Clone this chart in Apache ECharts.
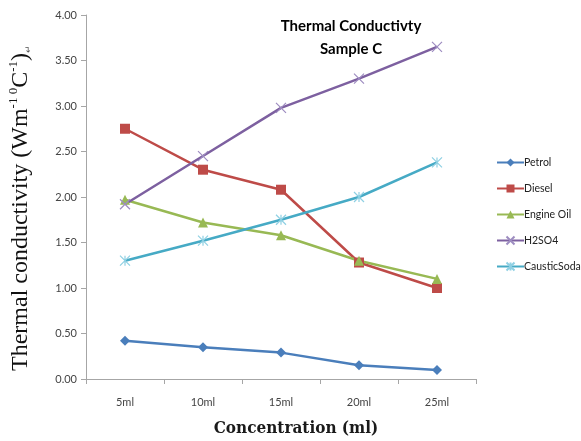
<!DOCTYPE html>
<html>
<head>
<meta charset="utf-8">
<script src="https://cdn.jsdelivr.net/npm/echarts@6/dist/echarts.min.js"></script>
<style>
  html, body { margin: 0; padding: 0; background: #fff; }
  #chart { width: 581px; height: 441px; }
</style>
</head>
<body>
<div id="chart"></div>
<script>
// Concentration categories along the x axis
const categories = ['5ml', '10ml', '15ml', '20ml', '25ml'];

// Thermal conductivity per liquid
const petrol      = [0.42, 0.35, 0.29, 0.15, 0.10];
const diesel      = [2.75, 2.30, 2.08, 1.28, 1.00];
const engineOil   = [1.97, 1.72, 1.58, 1.30, 1.10];
const h2so4       = [1.92, 2.45, 2.98, 3.30, 3.65];
const causticSoda = [1.30, 1.52, 1.75, 2.00, 2.38];

const seriesNames = ['Petrol', 'Diesel', 'Engine Oil', 'H2SO4', 'CausticSoda'];

const crossPath = 'path://M0,0L10,10M10,0L0,10';
const starPath  = 'path://M0,0L10,10M10,0L0,10M5,0L5,10';

function lineSeries(name, data, lineColor, markColor, symbol, size, hollow) {
  return {
    name: name,
    type: 'line',
    data: data,
    symbol: symbol,
    symbolSize: size,
    symbolKeepAspect: true,
    showAllSymbol: true,
    lineStyle: { color: lineColor, width: 2.5 },
    itemStyle: hollow
      ? { color: 'rgba(0,0,0,0)', borderColor: markColor, borderWidth: 1.2 }
      : { color: markColor, borderColor: markColor, borderWidth: 0 },
    emphasis: { disabled: true },
    animation: false
  };
}

const chart = echarts.init(document.getElementById('chart'), null, { renderer: 'canvas' });

chart.setOption({
  backgroundColor: '#ffffff',
  title: {
    text: 'Thermal Conductivty\nSample C',
    left: 346,
    top: 10,
    textAlign: 'center',
    textStyle: {
      fontFamily: 'Lato',
      fontWeight: 'bold',
      fontSize: 15,
      lineHeight: 23,
      color: '#000'
    }
  },
  legend: {
    orient: 'vertical',
    left: 491,
    top: 152,
    itemGap: 15,
    itemWidth: 27,
    itemHeight: 10,
    data: seriesNames,
    textStyle: { fontFamily: 'Lato', fontSize: 10.5, color: '#222', padding: [0, 0, 0, -5] }
  },
  grid: { left: 86, right: 105, top: 15, bottom: 62, containLabel: false, outerBoundsMode: 'none' },
  xAxis: {
    type: 'category',
    data: categories,
    boundaryGap: true,
    name: 'Concentration (ml)',
    nameLocation: 'middle',
    nameGap: 41,
    nameTextStyle: {
      fontFamily: 'DejaVu Serif Condensed, DejaVu Serif',
      fontSize: 17,
      fontWeight: 'bold',
      color: '#1a1a1a',
      padding: [0, 0, 0, 30]
    },
    axisLine: { lineStyle: { color: '#a6a6a6', width: 1 } },
    axisTick: { show: true, length: 5, lineStyle: { color: '#a6a6a6' } },
    axisLabel: { fontFamily: 'Lato', fontSize: 11, color: '#444', margin: 18 },
    splitLine: { show: false }
  },
  yAxis: {
    type: 'value',
    min: 0,
    max: 4,
    interval: 0.5,
    name: '{a|Thermal conductivity (Wm}{s|-1 0}{a|C}{s|-1}{a|)}{r|↵}',
    nameLocation: 'middle',
    nameRotate: 90,
    nameGap: 53,
    nameTextStyle: {
      padding: [0, 22, 0, 0],
      rich: {
        a: { fontFamily: 'Liberation Serif', fontSize: 24, color: '#111', verticalAlign: 'bottom', lineHeight: 26 },
        s: { fontFamily: 'Liberation Serif', fontSize: 13, color: '#111', verticalAlign: 'top', lineHeight: 26, padding: [0, 0, 11, 0] },
        r: { fontFamily: 'Liberation Serif', fontSize: 9, color: '#555', verticalAlign: 'bottom', lineHeight: 26 }
      }
    },
    axisLine: { show: true, lineStyle: { color: '#a6a6a6', width: 1 } },
    axisTick: { show: true, length: 5, lineStyle: { color: '#a6a6a6' } },
    axisLabel: {
      fontFamily: 'Lato',
      fontSize: 11,
      color: '#444',
      margin: 9,
      formatter: v => v.toFixed(2)
    },
    splitLine: { show: false }
  },
  series: [
    lineSeries('Petrol', petrol, '#4a7ebb', '#4a7ebb', 'diamond', 10, false),
    lineSeries('Diesel', diesel, '#be4b48', '#be4b48', 'rect', 10, false),
    lineSeries('Engine Oil', engineOil, '#98b954', '#98b954', 'triangle', 10, false),
    lineSeries('H2SO4', h2so4, '#7d60a0', '#9d8cc0', crossPath, 10, true),
    lineSeries('CausticSoda', causticSoda, '#46aac5', '#8fd0e3', starPath, 10, true)
  ]
});
</script>
</body>
</html>
